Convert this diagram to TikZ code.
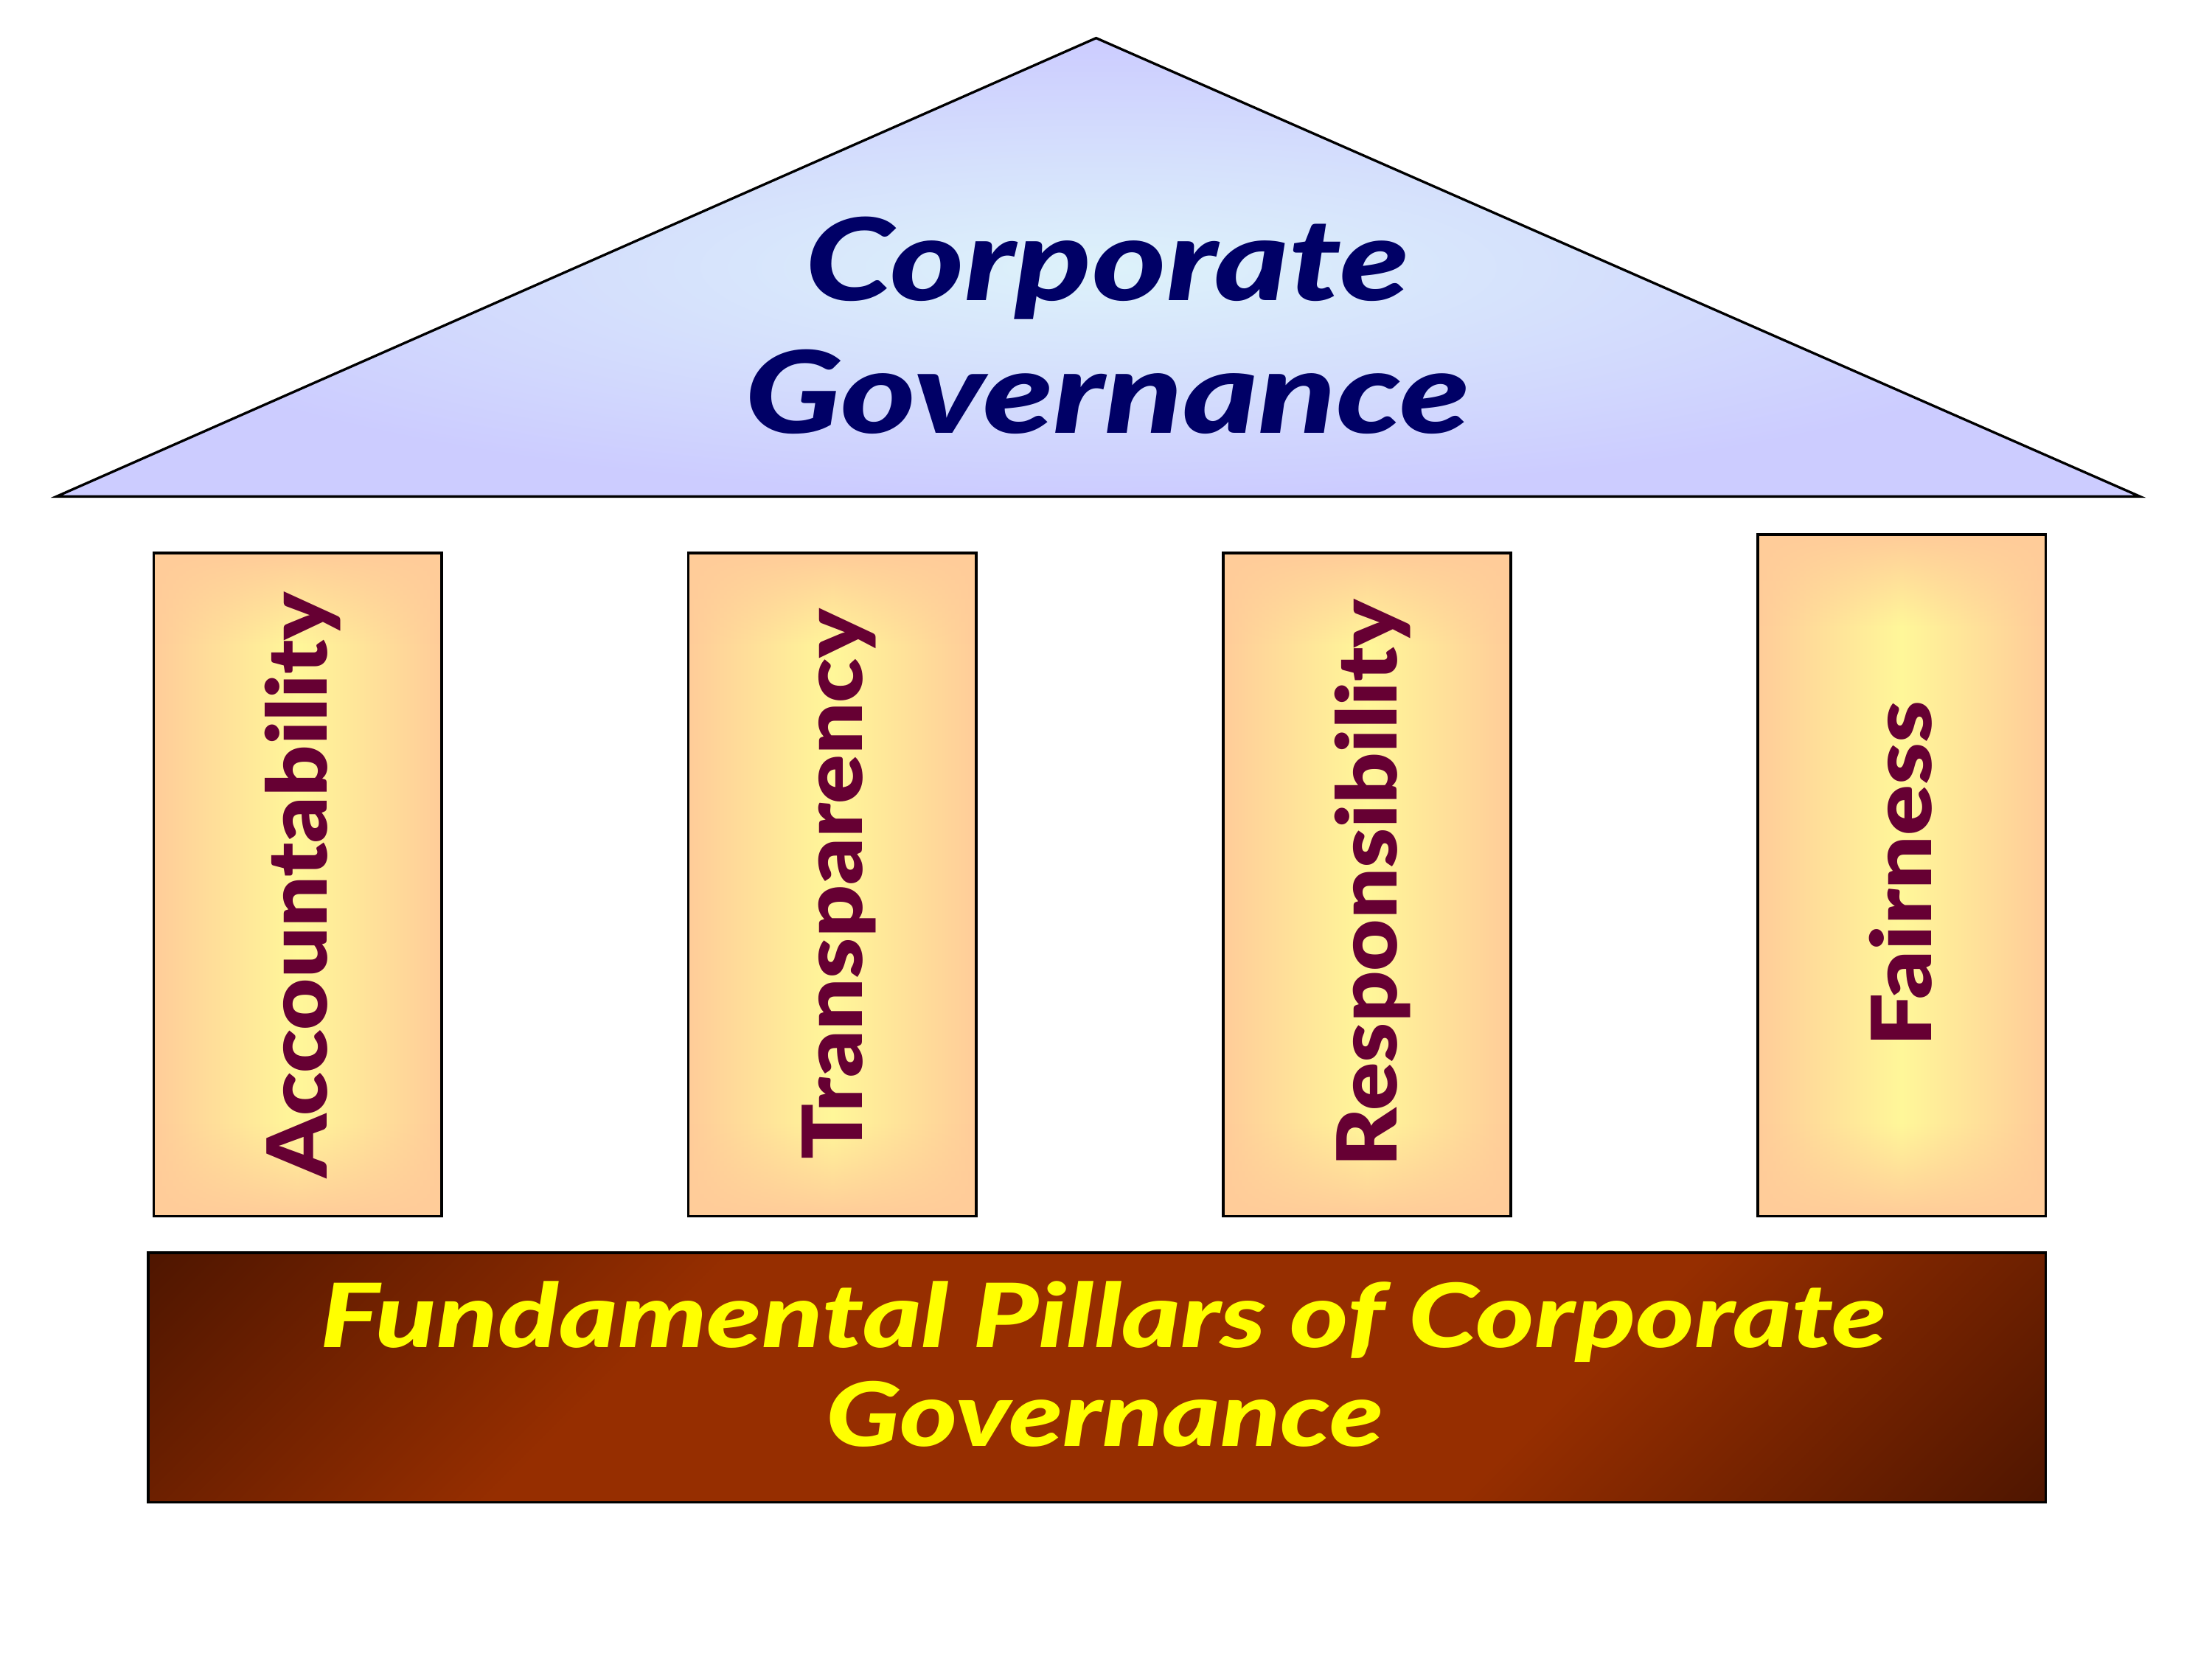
\documentclass[tikz,border=0pt]{standalone}
\usepackage{fontspec}
\usepackage{graphicx}
\usetikzlibrary{fadings}
\IfFontExistsTF{Lato Black Italic}{%
  \newfontfamily\heavyfont{Lato Black}%
  \newfontfamily\heavyitfont{Lato Black Italic}}{%
  \newfontfamily\heavyfont{DejaVu Sans Bold}%
  \newfontfamily\heavyitfont{DejaVu Sans Bold Oblique}}
\definecolor{roofin}{HTML}{DDF2FA}
\definecolor{roofout}{HTML}{CCCCFF}
\definecolor{roofblue}{HTML}{000066}
\definecolor{pillarin}{HTML}{FFF799}
\definecolor{pillarout}{HTML}{FFCC99}
\definecolor{pillarred}{HTML}{660033}
\definecolor{basemid}{HTML}{962E00}
\definecolor{basedark}{HTML}{4D1500}
\definecolor{baseyellow}{HTML}{FFFF00}
\pgfdeclarehorizontalshading{basegrad}{100bp}{color(0bp)=(basedark); color(14bp)=(basedark); color(34bp)=(basemid); color(66bp)=(basemid); color(86bp)=(basedark); color(100bp)=(basedark)}
\begin{document}
\begin{tikzpicture}[
  pillar/.style={left color=pillarout,right color=pillarout,middle color=pillarin},
  pillaredge/.style={draw=black,line width=0.5pt},
  pillartext/.style={rotate=90,anchor=base,inner sep=0pt,text=pillarred,font=\heavyfont\fontsize{16.7}{18}\selectfont},
  rooftext/.style={anchor=base,inner sep=0pt,text=roofblue,font=\heavyitfont\fontsize{23}{26}\selectfont},
  basetext/.style={anchor=base,inner sep=0pt,text=baseyellow,font=\heavyitfont\fontsize{17.9}{20}\selectfont}]
\useasboundingbox (0,-0.12) rectangle (15.68,11.64);
% roof
\draw[line width=0.5pt,inner color=roofin,outer color=roofout] (0.40,8.12) -- (7.77,11.37) -- (15.17,8.12) -- cycle;
\node[rooftext] (corp) at (7.85,9.51) {\resizebox{4.28cm}{\height}{Corporate}};
\node[rooftext] (gov) at (7.85,8.57) {\resizebox{5.14cm}{\height}{Governance}};
% pillars
\foreach \x/\top in {1.09/7.72,4.88/7.72,8.67/7.72,12.46/7.85}{
  \fill[pillar] (\x,3.02) rectangle (\x+2.04,\top);
  \fill[pillarout,path fading=south] (\x,\top-0.65) rectangle (\x+2.04,\top);
  \fill[pillarout,path fading=north] (\x,3.02) rectangle (\x+2.04,3.67);
  \draw[pillaredge] (\x,3.02) rectangle (\x+2.04,\top);
}
\node[pillartext] (acc) at (2.32,5.365) {\resizebox{4.15cm}{\height}{Accountability}};
\node[pillartext] (tra) at (6.11,5.37) {\resizebox{3.90cm}{\height}{Transparency}};
\node[pillartext] (res) at (9.90,5.38) {\resizebox{4.02cm}{\height}{Responsibility}};
\node[pillartext] (fai) at (13.69,5.445) {\resizebox{2.45cm}{\height}{Fairness}};
% base
\draw[line width=0.5pt,shading=basegrad,shading angle=-45] (1.05,0.99) rectangle (14.50,2.76);
\node[basetext] (fund) at (7.82,2.09) {\resizebox{11.10cm}{\height}{Fundamental Pillars of Corporate}};
\node[basetext] (fgov) at (7.83,1.39) {\resizebox{3.95cm}{\height}{Governance}};
\end{tikzpicture}
\end{document}
